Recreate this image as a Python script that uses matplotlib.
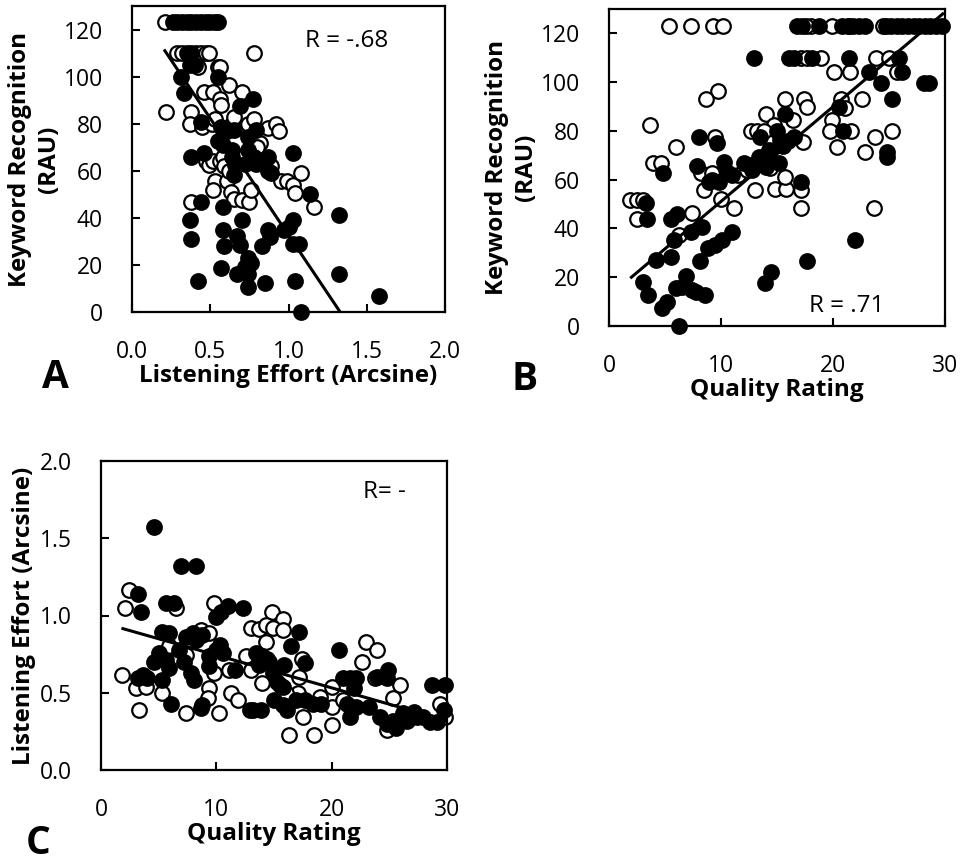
import matplotlib
matplotlib.use("Agg")
import matplotlib.pyplot as plt

plt.rcParams['font.family'] = ['Open Sans', 'DejaVu Sans']

# ---------------- Panel A: Listening effort vs keyword recognition ----------------
a_fill_x = [0.26,0.29,0.32,0.35,0.38,0.41,0.44,0.47,0.50,0.53,0.55,
            0.35,0.38,
            0.37,0.40,0.31,0.55,0.33,0.69,0.77,0.44,0.57,0.61,0.65,0.55,0.58,0.79,0.74,0.38,0.46,
            0.64,0.64,0.66,0.65,0.74,0.78,0.79,0.72,0.87,0.87,0.89,1.03,1.14,0.58,0.44,0.37,0.38,
            0.58,0.67,0.70,0.59,0.69,0.74,0.76,0.72,0.57,0.67,0.74,0.74,0.83,0.87,0.88,0.85,0.97,
            1.03,1.00,1.03,1.07,1.04,0.42,1.32,1.32,1.58,1.08]
a_fill_y = [123,123,123,123,123,123,123,123,123,123,123,
            110,110,
            105,105,100,100,93,87.6,90.6,80.6,78.5,77,77.5,72.6,71,77.4,74.5,66,67.5,
            69,65.7,62.6,58,69,66,63,63,66,60,59,67.4,50,44.6,46.6,39,31,
            35,32.5,39,28,28.6,23,21,19,18.5,16,16,10.7,28,35,31.7,12.5,35,
            39,36,29,29,13,13,41,16,7,0]
a_open_x = [0.21,0.29,0.32,0.41,0.44,0.47,0.49,0.78,0.42,0.55,0.56,0.62,0.46,0.52,0.56,0.57,
            0.70,0.22,0.38,0.37,0.45,0.51,0.53,0.64,0.65,0.74,0.78,0.87,0.92,0.94,0.82,0.80,
            0.47,0.49,0.52,0.56,0.58,0.89,0.95,0.99,1.03,1.08,1.04,1.16,0.53,0.52,0.61,0.63,
            0.65,0.70,0.75,0.76,0.38,0.59,0.62]
a_open_y = [123,110,110,110,110,110,110,110,104,104,104,96.6,93.5,93.5,90.6,87.8,
            93.5,85,85,80,78.5,80,82,80,83,80,82,78,80,77,72,70,
            64,62.6,64,64,65.7,62,55.6,55.6,54,59,50.4,44.6,55.6,52,55.6,51,
            48,47.4,46.6,52,46.6,62,60]
a_fit_x = [0.21, 1.33]
a_fit_y = [111, 0]

# ---------------- Panel B: Quality rating vs keyword recognition ----------------
b_fill_x = [16.8,17.2,18.75,20.8,21.3,21.8,22.3,22.9,24.7,25.2,25.7,26.2,26.7,27.2,27.7,28.2,28.7,29.2,29.7,
            12.95,16.1,16.5,18.15,21.4,25.9,
            23.2,26.2,24.3,28.1,28.6,25.3,20.5,15.7,20.9,24.85,24.85,13.5,8.0,9.6,15.3,16.5,15.5,
            4.85,7.9,10.3,9.8,8.9,11.0,12.05,13.4,13.7,14.0,15.2,17.1,3.3,3.4,5.5,6.1,7.3,8.3,
            11.0,10.1,9.5,8.8,8.1,5.8,5.5,4.2,22.0,17.7,14.5,13.9,3.0,3.5,4.7,5.2,5.95,6.9,7.4,
            8.6,6.25,6.5,7.8,12.5,12.8,14.3,15.0,9.2,10.5,16.0]
b_fill_y = [123]*19 + [110]*6 + \
           [104,104,99.7,99.7,99.7,92.9,90,87,80,71.4,69.4,77.6,77.6,74.9,76.2,77.6,74,
            62.8,65.6,67.3,59,59,61.9,67,69.4,66.7,65.3,67,59.2,50.3,44,44,46,38.7,40.7,
            38.7,35.2,33.2,31.8,26.8,35.2,28.4,27,35.2,26.8,22.3,17.8,18.2,12.7,7.2,10,15.4,20.5,14.8,
            12.7,0,16,14,66,64,72,80,60,63,76]
b_open_x = [5.4,7.35,9.3,10.2,18.0,19.9,21.4,17.6,24.5,
            17.1,17.7,18.9,23.8,25.0,
            20.1,21.5,25.7,22.6,20.7,21.1,17.4,17.7,9.7,8.7,15.7,14.0,16.4,14.7,3.7,19.9,19.7,
            21.6,25.3,23.75,20.4,22.9,12.65,13.2,13.8,9.5,17.3,5.95,3.9,4.6,8.2,9.2,8.5,14.4,
            13.0,14.8,15.8,15.7,17.1,17.1,23.7,7.4,11.2,10.0,1.9,2.5,3.0,2.5,6.25,11.5,12.3]
b_open_y = [123]*9 + [110]*5 + \
           [104,104,104,92.9,93,89.6,93,90,96.4,93,93,87,84.4,82.4,82.4,84.4,80,
            80,80,77.6,73.5,71.2,80,80,80,77.6,75.5,73.5,67,67,62.6,62.6,55.7,64.6,
            55.7,56,56,61.2,55.7,48.2,48.2,46.2,48.2,52,51.6,51.6,51.6,44,37.3,62,64]
b_fit_x = [2.0, 29.8]
b_fit_y = [20, 128]

# ---------------- Panel C: Quality rating vs listening effort ----------------
c_fill_x = [4.6,6.9,8.2,3.2,3.45,5.6,6.3,9.97,10.4,11.0,12.3,17.2,5.3,5.9,7.4,8.0,8.8,8.2,
            5.0,4.6,5.6,6.8,7.2,9.97,10.3,9.4,9.4,11.6,13.4,14.0,13.7,14.6,14.9,15.3,15.8,15.9,
            16.5,7.8,8.1,3.6,3.2,4.0,5.3,5.9,6.05,8.7,8.8,13.2,13.9,15.0,15.8,16.1,17.7,16.9,
            17.7,18.4,19.1,20.6,21.0,21.6,22.1,21.9,21.3,21.6,22.1,23.9,23.2,24.9,24.8,24.2,
            24.8,25.3,25.6,26.2,26.5,27.1,27.4,27.9,28.5,29.1,29.7,28.7,29.8,12.9,10.6,14.4]
c_fill_y = [1.575,1.32,1.32,1.14,1.025,1.08,1.08,0.99,1.025,1.06,1.05,0.895,0.895,0.885,0.863,0.885,0.875,0.84,
            0.755,0.70,0.71,0.776,0.70,0.776,0.81,0.735,0.67,0.647,0.755,0.735,0.68,0.70,0.626,0.57,0.54,0.68,
            0.80,0.626,0.583,0.615,0.593,0.593,0.583,0.658,0.43,0.40,0.42,0.388,0.388,0.453,0.42,0.388,0.69,0.453,
            0.453,0.43,0.43,0.776,0.593,0.593,0.593,0.53,0.43,0.345,0.41,0.604,0.41,0.647,0.593,0.345,
            0.30,0.32,0.27,0.367,0.32,0.378,0.345,0.345,0.313,0.313,0.388,0.55,0.55,0.39,0.76,0.72]
c_open_x = [2.4,2.1,6.5,9.8,14.8,15.8,13.0,13.7,14.3,14.9,15.8,14.3,5.9,8.7,9.4,7.4,9.8,11.1,
            12.6,13.0,14.0,1.85,3.0,3.9,3.3,5.3,7.4,10.2,9.4,9.25,11.3,11.9,16.3,18.5,17.5,17.4,
            17.2,17.1,19.0,20.0,20.0,20.0,21.0,23.0,23.9,22.6,23.8,25.9,25.3,24.8,29.4,29.8,15.5,16.0]
c_open_y = [1.165,1.05,1.05,1.08,1.025,0.98,0.92,0.915,0.94,0.92,0.905,0.83,0.80,0.905,0.885,0.745,0.625,0.647,
            0.735,0.647,0.56,0.615,0.53,0.54,0.388,0.496,0.367,0.367,0.53,0.464,0.496,0.453,0.227,0.227,0.345,0.72,
            0.604,0.5,0.475,0.54,0.41,0.29,0.453,0.83,0.776,0.70,0.593,0.55,0.464,0.26,0.43,0.345,0.55,0.5]
c_fit_x = [1.9, 30]
c_fit_y = [0.915, 0.32]

W, H = 963, 865
fig = plt.figure(figsize=(W/100, H/100), dpi=100)

def px_axes(l, t, r, b):
    return fig.add_axes([l/W, 1 - b/H, (r-l)/W, (b-t)/H])

axA = px_axes(132, 6, 445, 312)
axB = px_axes(609, 9, 945, 326)
axC = px_axes(101, 461, 447, 770)

TICK_FS = 16.5
LAB_FS = 17.5
R_FS = 17.5
MS = 110

def style(ax):
    for s in ax.spines.values():
        s.set_linewidth(1.6)
        s.set_color('black')
    ax.tick_params(direction='in', length=6, width=1.5, labelsize=TICK_FS, pad=20)
    ax.tick_params(axis='y', pad=21)

def scatter(ax, fx, fy, ox, oy, lx, ly):
    ax.scatter(ox, oy, s=MS, facecolor='white', edgecolor='black', linewidths=1.6, zorder=2, clip_on=False)
    ax.scatter(fx, fy, s=MS, facecolor='black', edgecolor='black', linewidths=1.6, zorder=3, clip_on=False)
    ax.plot(lx, ly, color='black', lw=2.2, zorder=4)

# Panel A
scatter(axA, a_fill_x, a_fill_y, a_open_x, a_open_y, a_fit_x, a_fit_y)
axA.set_xlim(0, 2.0)
axA.set_ylim(0, 130)
axA.set_xticks([0.0, 0.5, 1.0, 1.5, 2.0])
axA.set_xticklabels(['0.0', '0.5', '1.0', '1.5', '2.0'])
axA.set_yticks(range(0, 121, 20))
style(axA)
axA.set_ylabel('Keyword Recognition\n(RAU)', fontsize=LAB_FS, fontweight='bold', linespacing=1.25, labelpad=2)
axA.set_xlabel('Listening Effort (Arcsine)', fontsize=LAB_FS, fontweight='bold', labelpad=0)
axA.text(1.37, 115, 'R = -.68', fontsize=R_FS, ha='center', va='center')

# Panel B
scatter(axB, b_fill_x, b_fill_y, b_open_x, b_open_y, b_fit_x, b_fit_y)
axB.set_xlim(0, 30)
axB.set_ylim(0, 130)
axB.set_xticks([0, 10, 20, 30])
axB.set_yticks(range(0, 121, 20))
style(axB)
axB.set_ylabel('Keyword Recognition\n(RAU)', fontsize=LAB_FS, fontweight='bold', linespacing=1.25, labelpad=2)
axB.set_xlabel('Quality Rating', fontsize=LAB_FS, fontweight='bold', labelpad=0)
axB.text(21.2, 8, 'R = .71', fontsize=R_FS, ha='center', va='center')

# Panel C
scatter(axC, c_fill_x, c_fill_y, c_open_x, c_open_y, c_fit_x, c_fit_y)
axC.set_xlim(0, 30)
axC.set_ylim(0, 2.0)
axC.set_xticks([0, 10, 20, 30])
axC.set_yticks([0.0, 0.5, 1.0, 1.5, 2.0])
axC.set_yticklabels(['0.0', '0.5', '1.0', '1.5', '2.0'])
style(axC)
axC.set_ylabel('Listening Effort (Arcsine)', fontsize=LAB_FS, fontweight='bold', labelpad=3)
axC.set_xlabel('Quality Rating', fontsize=LAB_FS, fontweight='bold', labelpad=0)
axC.text(24.6, 1.8, 'R= -', fontsize=R_FS, ha='center', va='center')

# Panel letters
fig.text(55/W, 1 - 378/H, 'A', fontsize=28, fontweight='bold', ha='center', va='center')
fig.text(525/W, 1 - 380/H, 'B', fontsize=28, fontweight='bold', ha='center', va='center')
fig.text(38/W, 1 - 843/H, 'C', fontsize=28, fontweight='bold', ha='center', va='center')

fig.savefig('out.png', dpi=100)
